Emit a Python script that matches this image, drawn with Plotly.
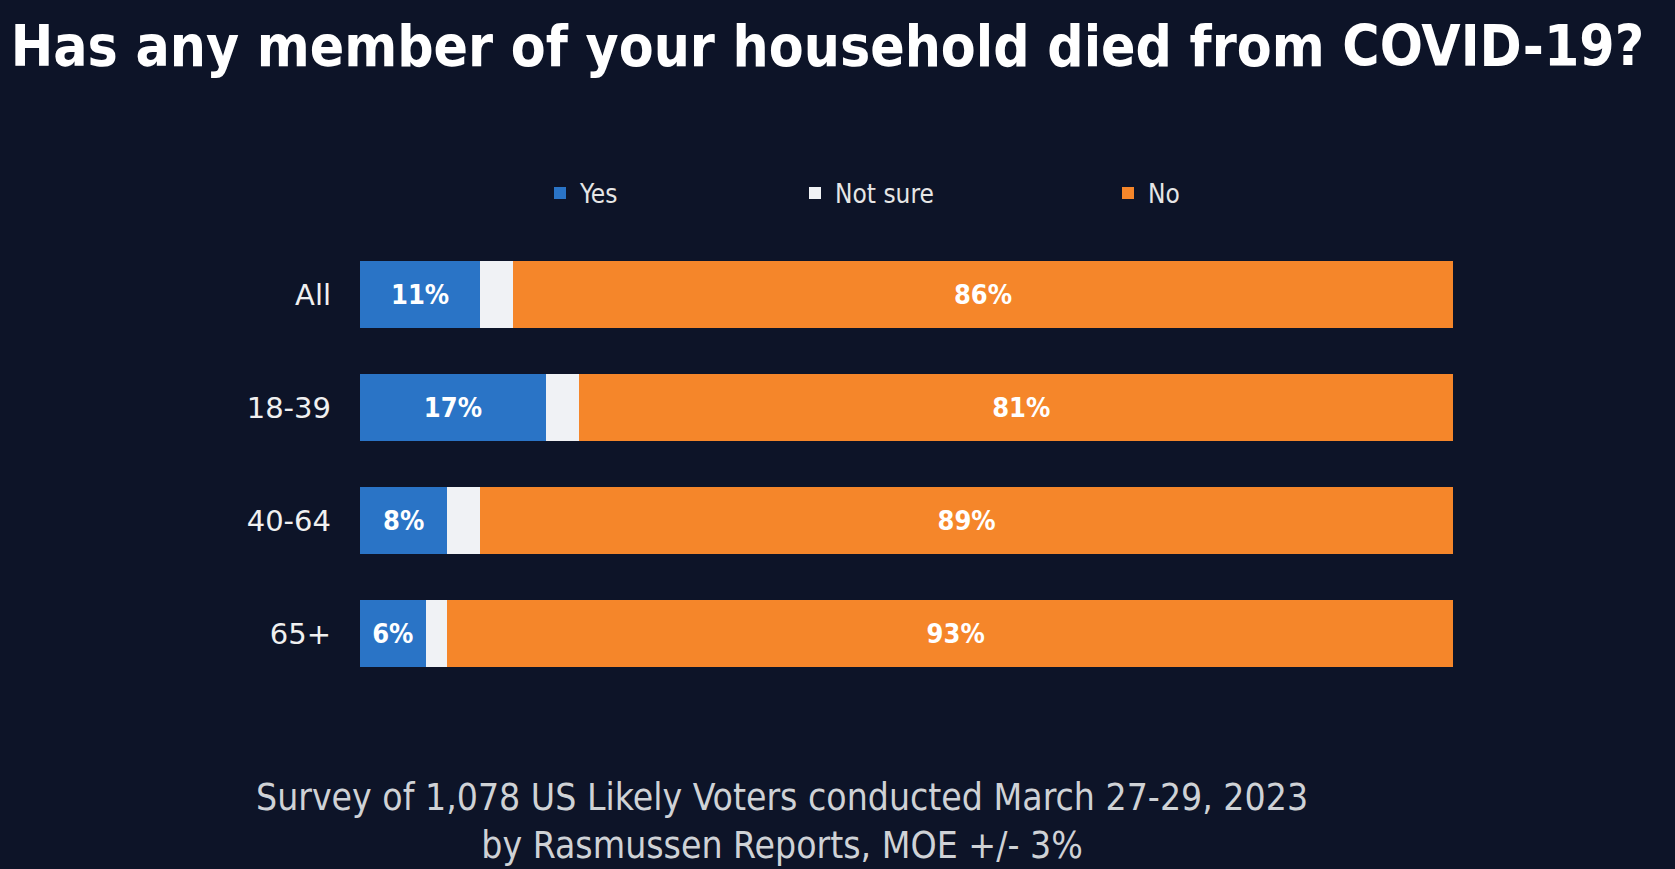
import plotly.graph_objects as go

categories = ["All", "18-39", "40-64", "65+"]
yes_vals = [11, 17, 8, 6]
not_sure_vals = [3, 3, 3, 2]
no_vals = [86, 81, 89, 93]

yes_labels = [f"{v}%" for v in yes_vals]
no_labels = [f"{v}%" for v in no_vals]

BG = "#0d1428"
BLUE = "#2a74c6"
WHITE = "#f0f2f5"
ORANGE = "#f5862a"

COND = "DejaVu Sans Condensed, DejaVu Sans"
bar_font = dict(family=COND, size=27, color="white", weight="bold")

fig = go.Figure()
fig.add_trace(go.Bar(
    y=categories, x=yes_vals, name="Yes", orientation="h",
    marker=dict(color=BLUE, line=dict(width=0)),
    text=yes_labels, textposition="inside", insidetextanchor="middle",
    textfont=bar_font, legend="legend",
))
fig.add_trace(go.Bar(
    y=categories, x=not_sure_vals, name="Not sure", orientation="h",
    marker=dict(color=WHITE, line=dict(width=0)),
    legend="legend2",
))
fig.add_trace(go.Bar(
    y=categories, x=no_vals, name="No", orientation="h",
    marker=dict(color=ORANGE, line=dict(width=0)),
    text=no_labels, textposition="inside", insidetextanchor="middle",
    textfont=bar_font, legend="legend3",
))

W, H = 1675, 869
L, R, T, B = 360, 222, 238, 179
pw = W - L - R
ph = H - T - B

def px_x(x):
    return (x - L) / pw

def px_y(y):
    return (H - B - y) / ph

leg_font = dict(family=COND, size=26, color="#e6e6e6")
def leg(xpix):
    return dict(x=px_x(xpix), y=px_y(193), xanchor="left", yanchor="middle",
                orientation="h", bgcolor="rgba(0,0,0,0)", font=leg_font,
                itemwidth=30, tracegroupgap=0)

foot_font = dict(family=COND, size=37, color="#cfd2d6")

fig.update_layout(
    width=W, height=H,
    paper_bgcolor=BG, plot_bgcolor=BG,
    margin=dict(l=L, r=R, t=T, b=B),
    barmode="stack", bargap=0.4,
    showlegend=True,
    legend=leg(540), legend2=leg(795), legend3=leg(1108),
    xaxis=dict(range=[0, 100], visible=False, fixedrange=True),
    yaxis=dict(autorange="reversed", showgrid=False, zeroline=False, showline=False,
               ticks="", ticklabelstandoff=28, fixedrange=True,
               tickfont=dict(family="DejaVu Sans", size=29, color="#f0f0f0")),
    uniformtext=dict(mode="show", minsize=10),
    title=dict(text="Has any member of your household died from COVID-19?",
               font=dict(family=COND, size=56.5, color="white", weight="bold"),
               x=0.494, xanchor="center", xref="container",
               y=1 - 46 / H, yanchor="middle", yref="container"),
    annotations=[
        dict(text="Survey of 1,078 US Likely Voters conducted March 27-29, 2023"
                  "<br>by Rasmussen Reports, MOE +/- 3%",
             x=px_x(782), y=px_y(868), xref="paper", yref="paper",
             xanchor="center", yanchor="bottom", align="center",
             showarrow=False, font=foot_font, borderpad=0),
    ],
)

fig.write_html("out.html", config={"displayModeBar": False},
               post_script="document.body.style.margin='0';")
